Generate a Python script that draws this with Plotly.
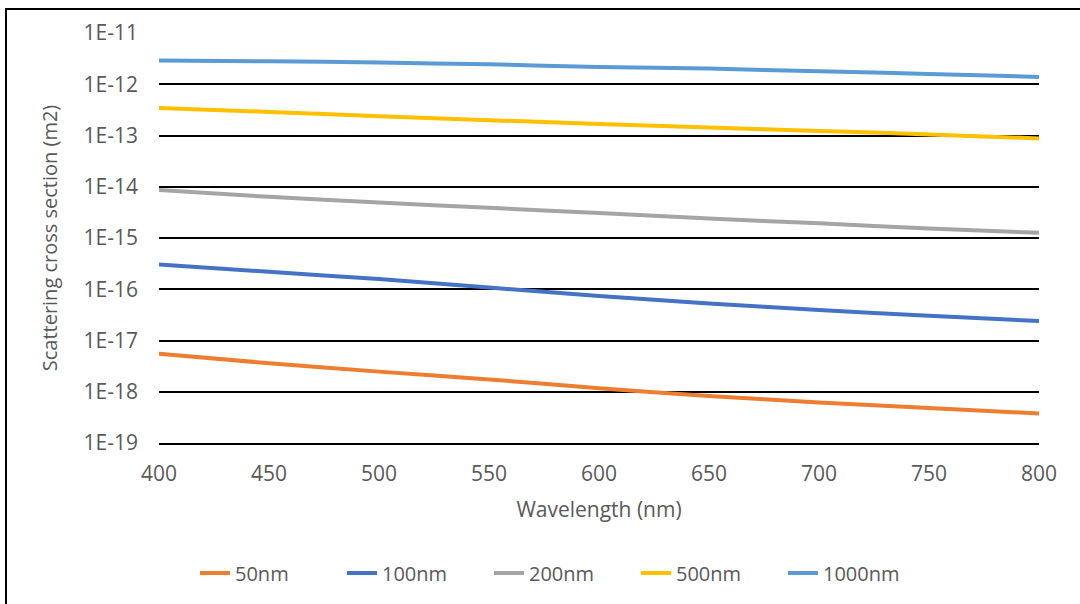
import plotly.graph_objects as go

# Wavelength grid (nm)
wavelength = [400, 450, 500, 550, 600, 650, 700, 750, 800]

# Scattering cross sections (m^2) per particle diameter
sigma_50nm = [5.5e-18, 3.6e-18, 2.47e-18, 1.74e-18, 1.17e-18, 8.3e-19, 6.2e-19, 4.8e-19, 3.77e-19]
sigma_100nm = [3.05e-16, 2.19e-16, 1.58e-16, 1.08e-16, 7.4e-17, 5.3e-17, 3.93e-17, 3.04e-17, 2.4e-17]
sigma_200nm = [8.6e-15, 6.35e-15, 4.94e-15, 3.88e-15, 3.06e-15, 2.41e-15, 1.93e-15, 1.54e-15, 1.26e-15]
sigma_500nm = [3.45e-13, 2.89e-13, 2.38e-13, 1.99e-13, 1.68e-13, 1.43e-13, 1.23e-13, 1.05e-13, 8.75e-14]
sigma_1000nm = [2.9e-12, 2.81e-12, 2.65e-12, 2.45e-12, 2.17e-12, 2.02e-12, 1.79e-12, 1.59e-12, 1.39e-12]

series_names = ["50nm", "100nm", "200nm", "500nm", "1000nm"]
series_values = [sigma_50nm, sigma_100nm, sigma_200nm, sigma_500nm, sigma_1000nm]
series_colors = ["#ED7D31", "#4472C4", "#A5A5A5", "#FFC000", "#5B9BD5"]

y_tick_values = [1e-19, 1e-18, 1e-17, 1e-16, 1e-15, 1e-14, 1e-13, 1e-12, 1e-11]
y_tick_labels = ["1E-19", "1E-18", "1E-17", "1E-16", "1E-15", "1E-14", "1E-13", "1E-12", "1E-11"]
x_tick_values = [400, 450, 500, 550, 600, 650, 700, 750, 800]

font_family = "Open Sans"
text_color = "#595959"

fig = go.Figure()
for name, vals, color in zip(series_names, series_values, series_colors):
    fig.add_trace(go.Scatter(
        x=wavelength, y=vals, name=name, mode="lines",
        line=dict(color=color, width=4, shape="spline", smoothing=0.6),
    ))

fig.update_layout(
    width=1080, height=604,
    margin=dict(l=159, r=41, t=33, b=161),
    paper_bgcolor="white", plot_bgcolor="white",
    font=dict(family=font_family, color=text_color, size=20),
    showlegend=True,
    legend=dict(
        orientation="h", x=(195 - 159) / 880, xanchor="left", y=-0.317, yanchor="middle",
        font=dict(size=20, color=text_color),
        entrywidth=102, entrywidthmode="pixels", tracegroupgap=0,
    ),
    xaxis=dict(
        range=[400, 800], tickvals=x_tick_values, showgrid=False, zeroline=False,
        showline=True, linecolor="black", linewidth=2, mirror=False,
        ticks="", ticklabelstandoff=11,
        tickfont=dict(size=21, color=text_color),
        title=dict(text="Wavelength (nm)", font=dict(size=21, color=text_color), standoff=16),
    ),
    yaxis=dict(
        type="log", range=[-19, -11], tickvals=y_tick_values, ticktext=y_tick_labels,
        showgrid=True, gridcolor="black", gridwidth=2, zeroline=False, showline=False,
        ticks="", ticklabelstandoff=20,
        tickfont=dict(size=21, color=text_color),
        title=dict(text="Scattering cross section (m2)", font=dict(size=20, color=text_color), standoff=20),
    ),
    shapes=[dict(
        type="rect", xref="paper", yref="paper",
        x0=(6 - 159) / 880, x1=(1090 - 159) / 880,
        y0=(443 - 620) / 410, y1=(443 - 9) / 410,
        line=dict(color="black", width=2), fillcolor="rgba(0,0,0,0)", layer="below",
    )],
)

fig.write_html("out.html")
